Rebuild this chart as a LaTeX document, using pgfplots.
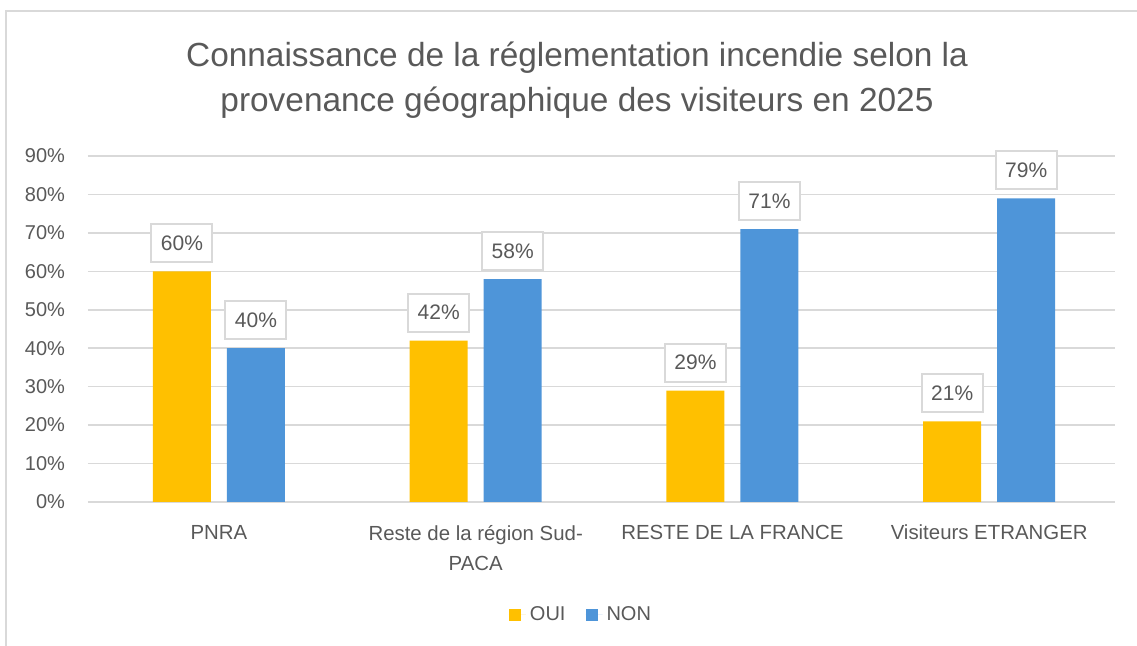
\documentclass[border=0pt]{standalone}
\usepackage{pgfplots}
\pgfplotsset{compat=1.18}
\usepackage{fontspec}
\setmainfont{Liberation Sans}
\definecolor{oui}{HTML}{FFC000}
\definecolor{non}{HTML}{4E95D9}
\definecolor{txt}{HTML}{595959}
\definecolor{grd}{HTML}{D9D9D9}
\begin{document}
\begin{tikzpicture}
\useasboundingbox (0,0) rectangle (568.5pt,323pt);
\draw[grd, line width=1pt] (3pt,0) -- (3pt,317.5pt) -- (568.5pt,317.5pt);
\node[txt, align=center, font=\fontsize{16.7}{22.5}\selectfont] at (288.5pt,283pt)
  {Connaissance de la réglementation incendie selon la\\provenance géographique des visiteurs en 2025};
\begin{axis}[
  at={(44pt,72pt)}, anchor=south west,
  scale only axis, width=513.5pt, height=173pt,
  ybar=8pt, bar width=29pt,
  xmin=-0.51, xmax=3.49, ymin=0, ymax=90,
  xtick={0,1,2,3},
  xticklabels={PNRA, Reste de la région Sud-\\PACA, RESTE DE LA FRANCE, Visiteurs ETRANGER},
  xticklabel style={align=center, font=\fontsize{10.2}{15}\selectfont, text=txt, yshift=-8pt},
  ytick={0,10,...,90},
  yticklabel={\pgfmathprintnumber{\tick}\%},
  yticklabel style={font=\fontsize{10}{12}\selectfont, text=txt, xshift=-8pt},
  /pgf/number format/assume math mode=true,
  major tick length=0pt,
  ymajorgrids, grid style={grd, line width=0.8pt},
  axis x line*=bottom, axis y line*=left,
  x axis line style={grd, line width=0.8pt, -},
  y axis line style={draw=none},
  nodes near coords={\pgfmathprintnumber{\pgfplotspointmeta}\%},
  every node near coord/.append style={draw=grd, line width=1pt, fill=white, text=txt,
    font=\fontsize{10.5}{12}\selectfont, minimum width=30.5pt, minimum height=19pt,
    anchor=south, yshift=4pt},
  legend style={at={(0.481,-0.3266)}, anchor=center, draw=none, legend columns=2,
    font=\fontsize{10}{12}\selectfont, text=txt,
    /tikz/every even column/.append style={column sep=8pt}},
  legend image code/.code={\fill[#1] (0pt,-3pt) rectangle (6pt,3pt); \path (0pt,0pt) -- (8.5pt,0pt);},
]
\addplot[fill=oui, draw=none] coordinates {(0,60) (1,42) (2,29) (3,21)};
\addplot[fill=non, draw=none] coordinates {(0,40) (1,58) (2,71) (3,79)};
\legend{OUI, NON}
\end{axis}
\end{tikzpicture}
\end{document}
